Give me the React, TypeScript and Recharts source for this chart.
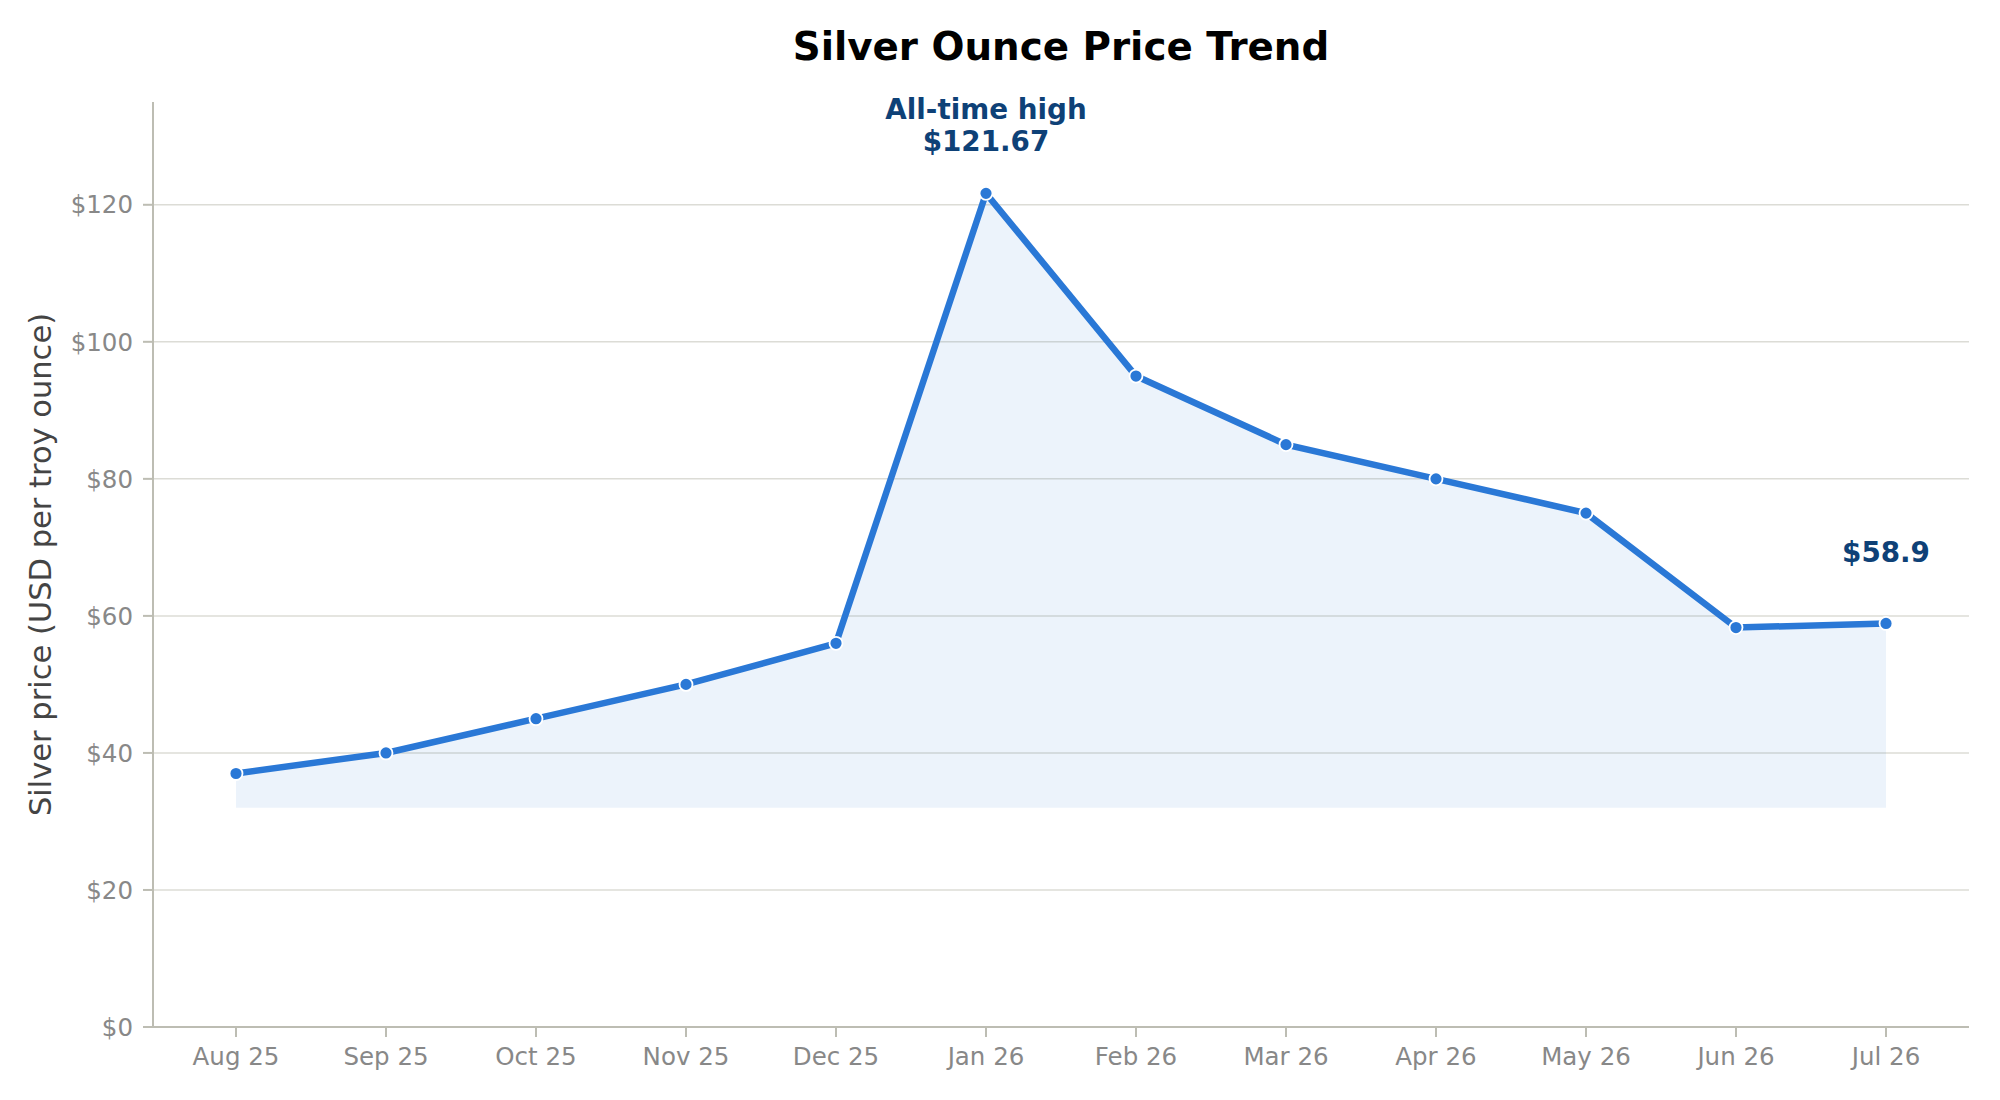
import React from "react";
import { ComposedChart, Area, Line, XAxis, YAxis, CartesianGrid } from "recharts";

const months = ["Aug 25", "Sep 25", "Oct 25", "Nov 25", "Dec 25", "Jan 26", "Feb 26", "Mar 26", "Apr 26", "May 26", "Jun 26", "Jul 26"];
const prices = [37, 40, 45, 50, 56, 121.67, 95, 85, 80, 75, 58.3, 58.9];
const yTicks = [0, 20, 40, 60, 80, 100, 120];
const fillBase = 32;
const peakIndex = 5;
const lastIndex = prices.length - 1;

const data = months.map((m, i) => ({ month: m, price: prices[i] }));

const FONT = "DejaVu Sans";
const BLUE = "#2a78d6";
const NAVY = "#0e4177";
const AXIS = "#bdbdb3";
const TICK = "#888888";

// annotation text for the peak and the latest point
function PointNote(props: any) {
  const { x, y, index } = props;
  if (index === peakIndex) {
    return (
      <g>
        <text x={x} y={y - 74} textAnchor="middle" fontFamily={FONT} fontWeight="bold" fontSize={27.8} fill={NAVY}>All-time high</text>
        <text x={x} y={y - 42} textAnchor="middle" fontFamily={FONT} fontWeight="bold" fontSize={27.8} fill={NAVY}>${prices[index]}</text>
      </g>
    );
  }
  if (index === lastIndex) {
    return (
      <text x={x} y={y - 61} textAnchor="middle" fontFamily={FONT} fontWeight="bold" fontSize={27.8} fill={NAVY}>${prices[index]}</text>
    );
  }
  return null;
}

export default function App() {
  const tick = { fontFamily: FONT, fontSize: 24.5, fill: TICK };
  return (
    <div style={{ position: "absolute", left: 0, top: 0, width: 2000, height: 1100, background: "#fff" }}>
      <div style={{ position: "absolute", left: 153, width: 1816, top: 27, textAlign: "center", fontFamily: FONT, fontWeight: "bold", fontSize: 38.8, lineHeight: "40px", color: "#000" }}>
        Silver Ounce Price Trend
      </div>
      <ComposedChart width={2000} height={1100} data={data} margin={{ top: 102, right: 31, bottom: 43, left: 0 }}>
        <CartesianGrid horizontal vertical={false} horizontalValues={yTicks} stroke="#dcdcd6" strokeWidth={1.5} />
        <XAxis
          dataKey="month"
          scale="point"
          height={30}
          padding={{ left: 83, right: 83 }}
          axisLine={{ stroke: AXIS, strokeWidth: 2 }}
          tickLine={{ stroke: AXIS, strokeWidth: 2 }}
          tickSize={10}
          tickMargin={11}
          tick={tick}
          interval={0}
        />
        <YAxis
          width={153}
          domain={[0, 135]}
          ticks={yTicks}
          tickFormatter={(v) => `$${v}`}
          axisLine={{ stroke: AXIS, strokeWidth: 2 }}
          tickLine={{ stroke: AXIS, strokeWidth: 2 }}
          tickSize={10}
          tickMargin={10}
          tick={tick}
          label={{ value: "Silver price (USD per troy ounce)", angle: -90, position: "insideLeft", offset: 40, style: { textAnchor: "middle", fontFamily: FONT, fontSize: 30.5, fill: "#444" } }}
        />
        <Area
          dataKey="price"
          type="linear"
          baseValue={fillBase}
          fill={BLUE}
          fillOpacity={0.09}
          stroke={BLUE}
          strokeOpacity={0.1}
          strokeWidth={1}
          dot={false}
          activeDot={false}
          isAnimationActive={false}
        />
        <Line
          dataKey="price"
          type="linear"
          stroke={BLUE}
          strokeWidth={6.5}
          dot={{ r: 6.5, fill: BLUE, stroke: "#fff", strokeWidth: 1.8 }}
          activeDot={false}
          label={<PointNote />}
          isAnimationActive={false}
        />
      </ComposedChart>
    </div>
  );
}
